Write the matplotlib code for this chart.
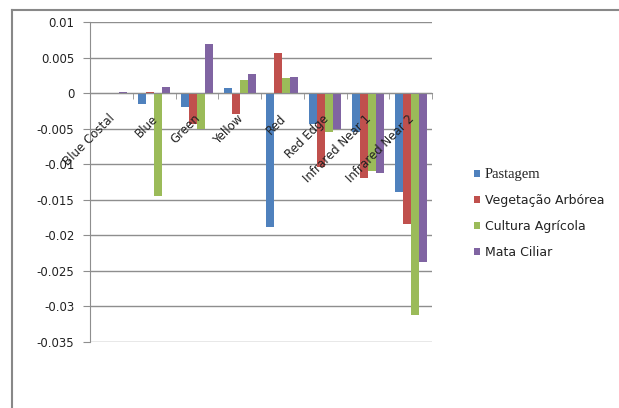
import numpy as np
import matplotlib
matplotlib.use('Agg')
import matplotlib.pyplot as plt
import matplotlib.transforms as mtransforms
from matplotlib.lines import Line2D
from matplotlib.patches import Patch

# Spectral bands and series values
bands = ['Blue Costal', 'Blue', 'Green', 'Yellow', 'Red', 'Red Edge',
         'Infrared Near 1', 'Infrared Near 2']
pastagem = [0.0, -0.0015, -0.002, 0.0007, -0.0188, -0.0043, -0.0054, -0.0139]
vegetacao = [0.0, 0.0002, -0.0043, -0.0029, 0.0057, -0.0104, -0.0119, -0.0185]
cultura = [0.0, -0.01455, -0.005, 0.0018, 0.0022, -0.0055, -0.0109, -0.0313]
mata = [0.0002, 0.0009, 0.0069, 0.0027, 0.0023, -0.005, -0.0112, -0.0238]

series_names = ['Pastagem', 'Vegetação Arbórea', 'Cultura Agrícola', 'Mata Ciliar']
colors = ['#4F81BD', '#C0504D', '#9BBB59', '#8064A2']
yticks = [0.01, 0.005, 0, -0.005, -0.01, -0.015, -0.02, -0.025, -0.03, -0.035]
ytick_labels = ['0.01', '0.005', '0', '-0.005', '-0.01', '-0.015', '-0.02',
                '-0.025', '-0.03', '-0.035']

W, H = 619, 408
fig = plt.figure(figsize=(W / 100, H / 100), dpi=100)
ax = fig.add_axes([90 / W, 1 - 341.5 / H, (432 - 90) / W, (341.5 - 22.3) / H])

grid_col = '#8e8e8e'
x = np.arange(len(bands))
bw = 0.1875
for i, (vals, c) in enumerate(zip([pastagem, vegetacao, cultura, mata], colors)):
    ax.bar(x + (i - 1.5) * bw, vals, width=bw, color=c, zorder=3)

ax.set_xlim(-0.5, len(bands) - 0.5)
ax.set_ylim(-0.035, 0.01)
ax.set_yticks(yticks)
ax.set_yticklabels(ytick_labels)
ax.yaxis.grid(True, color=grid_col, lw=1)
ax.set_axisbelow(True)

for s in ['top', 'right']:
    ax.spines[s].set_visible(False)
ax.spines['left'].set_color(grid_col)
ax.spines['bottom'].set_color(grid_col)
ax.spines['bottom'].set_position(('data', 0))
ax.spines['bottom'].set_zorder(4)

ax.tick_params(axis='y', length=4.8, color=grid_col, pad=6.5, labelsize=8.5,
               labelcolor='#222222')
ax.set_xticks(x)
ax.set_xticklabels(bands)
ax.set_xticks(np.arange(len(bands) + 1) - 0.5, minor=True)
ax.tick_params(axis='x', which='major', length=0, pad=13.5, labelsize=8.5,
               labelcolor='#222222')
ax.tick_params(axis='x', which='minor', length=4, color=grid_col, direction='out')
shift = mtransforms.ScaledTranslation(-3 / 100, 0, fig.dpi_scale_trans)
for lab in ax.get_xticklabels():
    lab.set_rotation(45)
    lab.set_rotation_mode('anchor')
    lab.set_ha('right')
    lab.set_va('top')
    lab.set_transform(lab.get_transform() + shift)
# category labels sit on top of the bars, as in the original
ax.xaxis.set_zorder(5)

# Legend
handles = [Patch(facecolor=c, edgecolor='none') for c in colors]
leg = fig.legend(handles, series_names, loc='center left',
                 bbox_to_anchor=(474 / W, 1 - 213.5 / H), frameon=False,
                 fontsize=9, handlelength=0.48, handleheight=0.48,
                 handletextpad=0.4, labelspacing=1.05, borderpad=0,
                 borderaxespad=0)
for t in leg.get_texts():
    t.set_color('#222222')
leg.get_texts()[0].set_family('Liberation Serif')
leg.get_texts()[0].set_fontsize(10.5)

# Chart frame (top and left edges visible)
frame = '#888888'
fig.add_artist(Line2D([12 / W, 1], [1 - 10 / H, 1 - 10 / H], color=frame, lw=1.5))
fig.add_artist(Line2D([12 / W, 12 / W], [0, 1 - 10 / H], color=frame, lw=1.5))

fig.savefig('out.png', dpi=100, facecolor='white')
